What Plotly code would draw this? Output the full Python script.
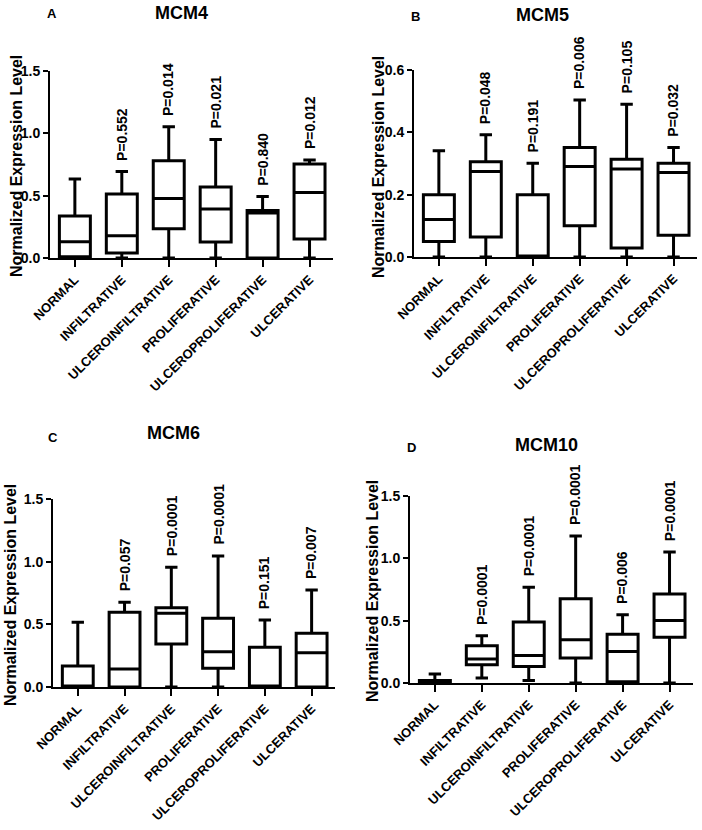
import plotly.graph_objects as go

categories = ["NORMAL", "INFILTRATIVE", "ULCEROINFILTRATIVE", "PROLIFERATIVE",
              "ULCEROPROLIFERATIVE", "ULCERATIVE"]

# Panel A - MCM4
mcm4_min = [0.0, 0.0, 0.0, 0.0, 0.0, 0.0]
mcm4_q1 = [0.01, 0.04, 0.234, 0.128, 0.0, 0.152]
mcm4_med = [0.13, 0.179, 0.477, 0.394, 0.36, 0.525]
mcm4_q3 = [0.336, 0.514, 0.781, 0.57, 0.381, 0.754]
mcm4_max = [0.634, 0.693, 1.052, 0.951, 0.493, 0.786]
mcm4_p = ["", "P=0.552", "P=0.014", "P=0.021", "P=0.840", "P=0.012"]

# Panel B - MCM5
mcm5_min = [0.0, 0.0, 0.0, 0.0, 0.0, 0.0]
mcm5_q1 = [0.05, 0.064, 0.0, 0.1, 0.029, 0.07]
mcm5_med = [0.12, 0.274, 0.0, 0.29, 0.282, 0.271]
mcm5_q3 = [0.2, 0.306, 0.2, 0.351, 0.314, 0.301]
mcm5_max = [0.341, 0.392, 0.301, 0.504, 0.49, 0.351]
mcm5_p = ["", "P=0.048", "P=0.191", "P=0.006", "P=0.105", "P=0.032"]

# Panel C - MCM6
mcm6_min = [0.0, 0.0, 0.0, 0.0, 0.0, 0.0]
mcm6_q1 = [0.0, 0.0, 0.343, 0.149, 0.0, 0.0]
mcm6_med = [0.0, 0.144, 0.588, 0.282, 0.0, 0.274]
mcm6_q3 = [0.168, 0.596, 0.633, 0.548, 0.317, 0.428]
mcm6_max = [0.516, 0.676, 0.955, 1.045, 0.535, 0.774]
mcm6_p = ["", "P=0.057", "P=0.0001", "P=0.0001", "P=0.151", "P=0.007"]

# Panel D - MCM10
mcm10_min = [0.0, 0.04, 0.02, 0.0, 0.0, 0.0]
mcm10_q1 = [0.0, 0.147, 0.133, 0.2, 0.01, 0.366]
mcm10_med = [0.01, 0.192, 0.221, 0.347, 0.253, 0.502]
mcm10_q3 = [0.02, 0.299, 0.489, 0.676, 0.392, 0.713]
mcm10_max = [0.072, 0.379, 0.769, 1.18, 0.547, 1.05]
mcm10_p = ["", "P=0.0001", "P=0.0001", "P=0.0001", "P=0.006", "P=0.0001"]

W, H = 702, 830
FONT = "Liberation Sans, Arial, sans-serif"

panels = [
    dict(name="MCM4", letter="A", mn=mcm4_min, q1=mcm4_q1, med=mcm4_med, q3=mcm4_q3, mx=mcm4_max, p=mcm4_p,
         xpx=(50, 333), ypx=(71, 258), yr=1.5, dt=0.5,
         title_xy=(181, 13), letter_xy=(52, 14), ylab_xy=(17, 166)),
    dict(name="MCM5", letter="B", mn=mcm5_min, q1=mcm5_q1, med=mcm5_med, q3=mcm5_q3, mx=mcm5_max, p=mcm5_p,
         xpx=(414, 697), ypx=(70, 257), yr=0.6, dt=0.2,
         title_xy=(542, 15), letter_xy=(415, 17), ylab_xy=(378, 167)),
    dict(name="MCM6", letter="C", mn=mcm6_min, q1=mcm6_q1, med=mcm6_med, q3=mcm6_q3, mx=mcm6_max, p=mcm6_p,
         xpx=(53, 335), ypx=(499, 687), yr=1.5, dt=0.5,
         title_xy=(173, 433), letter_xy=(53, 437), ylab_xy=(10, 595)),
    dict(name="MCM10", letter="D", mn=mcm10_min, q1=mcm10_q1, med=mcm10_med, q3=mcm10_q3, mx=mcm10_max, p=mcm10_p,
         xpx=(410, 693), ypx=(496, 683), yr=1.5, dt=0.5,
         title_xy=(546, 445), letter_xy=(411, 447), ylab_xy=(372, 591)),
]

fig = go.Figure()
annotations = []
layout = {}

for i, pnl in enumerate(panels):
    n = "" if i == 0 else str(i + 1)
    xa, ya = "x" + n, "y" + n
    fig.add_trace(go.Box(
        x=categories, q1=pnl["q1"], median=pnl["med"], q3=pnl["q3"],
        lowerfence=pnl["mn"], upperfence=pnl["mx"],
        xaxis=xa, yaxis=ya, width=0.66, whiskerwidth=0.4,
        fillcolor="white", line=dict(color="black", width=3),
        boxpoints=False, showlegend=False, hoverinfo="skip",
    ))
    x0, x1 = pnl["xpx"]
    y0, y1 = pnl["ypx"]
    layout["xaxis" + n] = dict(
        domain=[x0 / W, x1 / W], anchor=ya, type="category",
        categoryorder="array", categoryarray=categories, automargin=False,
        range=[-0.53, 5.5], showline=True, linecolor="black", linewidth=2,
        ticks="outside", ticklen=7, tickwidth=2, tickcolor="black",
        tickangle=-45, showgrid=False, zeroline=False,
        tickfont=dict(family=FONT, size=13, color="black", weight="bold"),
    )
    layout["yaxis" + n] = dict(
        domain=[1 - y1 / H, 1 - y0 / H], anchor=xa, automargin=False,
        range=[0, pnl["yr"]], dtick=pnl["dt"], tick0=0, tickformat=".1f",
        showline=True, linecolor="black", linewidth=2,
        ticks="outside", ticklen=5, tickwidth=2, tickcolor="black",
        showgrid=False, zeroline=False,
        tickfont=dict(family=FONT, size=14, color="black", weight="bold"),
    )
    # p-values
    for c, v, t in zip(categories, pnl["mx"], pnl["p"]):
        if t:
            annotations.append(dict(
                x=c, y=v, xref=xa, yref=ya, text=t, showarrow=False,
                textangle=-90, xanchor="center", yanchor="bottom", yshift=9,
                font=dict(family=FONT, size=14, color="black", weight="bold"),
            ))
    # titles
    tx, ty = pnl["title_xy"]
    annotations.append(dict(x=tx / W, y=1 - ty / H, xref="paper", yref="paper",
                            text=pnl["name"], showarrow=False, xanchor="center", yanchor="middle",
                            font=dict(family=FONT, size=18, color="black", weight="bold")))
    lx, ly = pnl["letter_xy"]
    annotations.append(dict(x=lx / W, y=1 - ly / H, xref="paper", yref="paper",
                            text=pnl["letter"], showarrow=False, xanchor="center", yanchor="middle",
                            font=dict(family=FONT, size=13, color="black", weight="bold")))
    yx, yy = pnl["ylab_xy"]
    annotations.append(dict(x=yx / W, y=1 - yy / H, xref="paper", yref="paper",
                            text="Normalized Expression Level", showarrow=False, textangle=-90,
                            xanchor="center", yanchor="middle",
                            font=dict(family=FONT, size=16, color="black", weight="bold")))

fig.update_layout(
    template="none",
    width=W, height=H, margin=dict(l=0, r=0, t=0, b=0, autoexpand=False),
    paper_bgcolor="white", plot_bgcolor="white",
    annotations=annotations, **layout,
)

fig.write_html("out.html", config={"displayModeBar": False},
               post_script="document.body.style.margin='0';")
